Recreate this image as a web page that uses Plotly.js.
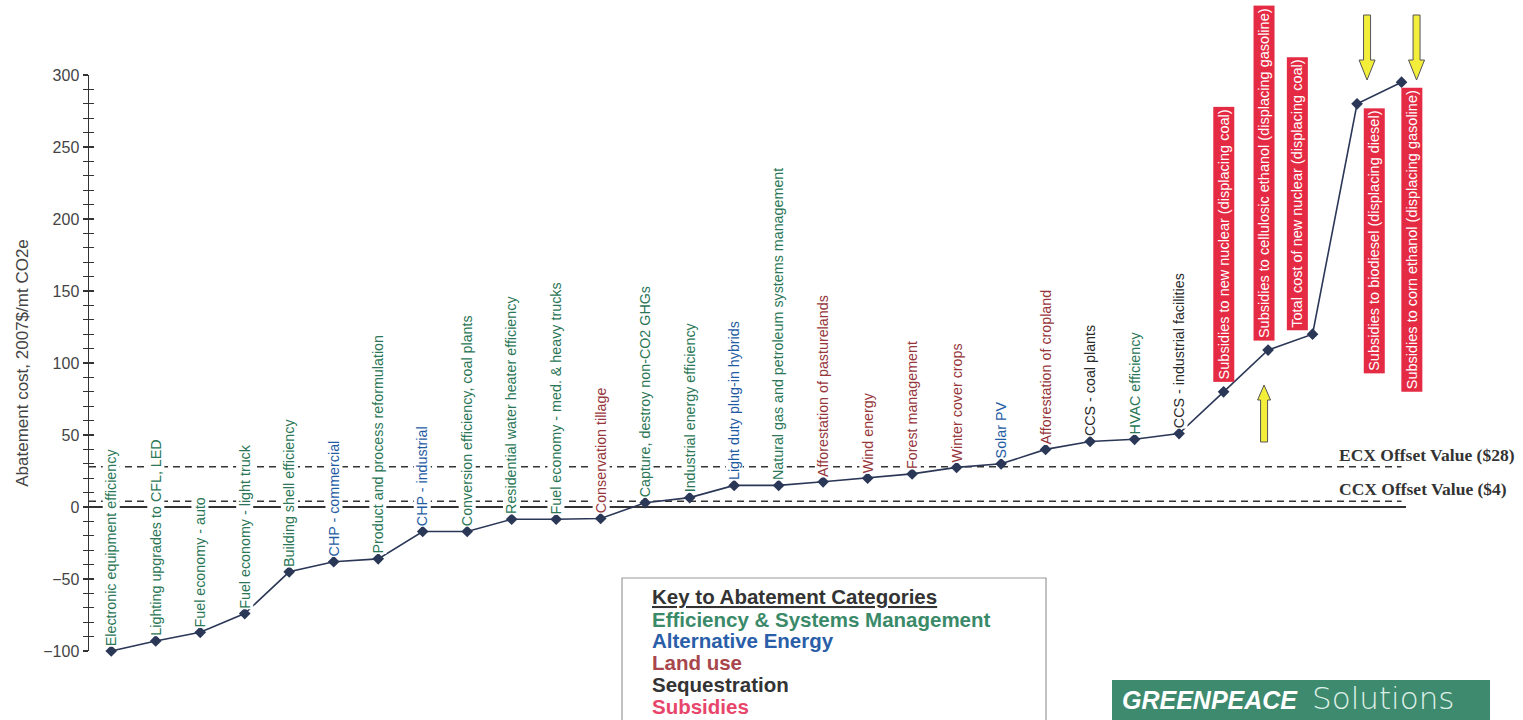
<!DOCTYPE html>
<html><head><meta charset="utf-8">
<script src="https://cdn.plot.ly/plotly-3.0.1.min.js"></script>
<style>html,body{margin:0;padding:0;background:#fff;overflow:hidden}#chart{width:1523px;height:720px}</style>
</head><body><div id="chart"></div><script>
// ---------- data ----------
const measures = [
  'Electronic equipment efficiency','Lighting upgrades to CFL, LED','Fuel economy - auto','Fuel economy - light truck',
  'Building shell efficiency','CHP - commercial','Product and process reformulation','CHP - industrial',
  'Conversion efficiency, coal plants','Residential water heater efficiency','Fuel economy - med. & heavy trucks',
  'Conservation tillage','Capture, destroy non-CO2 GHGs','Industrial energy efficiency','Light duty plug-in hybrids',
  'Natural gas and petroleum systems management','Afforestation of pasturelands','Wind energy','Forest management',
  'Winter cover crops','Solar PV','Afforestation of cropland','CCS - coal plants','HVAC efficiency',
  'CCS - industrial facilities','Subsidies to new nuclear (displacing coal)',
  'Subsidies to cellulosic ethanol (displacing gasoline)','Total cost of new nuclear (displacing coal)',
  'Subsidies to biodiesel (displacing diesel)','Subsidies to corn ethanol (displacing gasoline)'
];
const costs = [-100,-93,-87,-74,-45,-38,-36,-17,-17,-8.5,-8.5,-8,3,6.5,15,15,17.5,20,23,27.5,30,40,45.5,47,51,80,109,120,280,295];
const measureCategory = ['E','E','E','E','E','A','E','A','E','E','E','L','E','E','A','E','L','L','L','L','A','L','S','E','S','U','U','U','U','U'];
const categoryKeys = ['E','A','L','S','U'];
const categoryNames = ['Efficiency & Systems Management','Alternative Energy','Land use','Sequestration','Subsidies'];
const offsetValues = [28, 4];
const offsetLabels = ['ECX Offset Value ($28)','CCX Offset Value ($4)'];
const keyTitle = 'Key to Abatement Categories';
const yTitle = 'Abatement cost, 2007$/mt CO2e';

// ---------- styles ----------
const W=1523,H=720,ML=89,MR=117,MT=75,MB=69;
const PW=W-ML-MR, PH=H-MT-MB;
const XR=[-0.5,29.1];
const px2x = px => (px-ML)/PW;
const py2y = py => (H-MB-py)/PH;
const idx2x = i => (i-XR[0])/(XR[1]-XR[0]);
const labelColor = {E:'#2a7656',A:'#1f5ca3',L:'#96363b',S:'#2a2a2a',U:'#ffffff'};
const keyColor = {E:'#3a8a69',A:'#2a5ea8',L:'#a8464c',S:'#333333',U:'#e8456a'};
const subsidyRed = '#e52b44';
const FONT = 'Liberation Sans, Arial, sans-serif';
// label placement of the highlighted (subsidy) labels: [yanchor, xshift, yshift]
const subsidyPlacement = {25:['bottom',0,9],26:['bottom',-4,9],27:['bottom',-15,3],28:['top',17,-4],29:['top',10,-5]};

const xs = measures.map((_,i)=>i);

const trace = {
  x: xs, y: costs, type:'scatter', mode:'lines+markers',
  line:{color:'#2b3757', width:1.6},
  marker:{symbol:'diamond', size:9, color:'#2b3757'},
  hoverinfo:'text', text: measures, showlegend:false, cliponaxis:false
};
const trace2 = {x:[0], y:[0], yaxis:'y2', mode:'markers', marker:{opacity:0}, showlegend:false, hoverinfo:'skip'};

const annotations = [];
measures.forEach((m,i)=>{
  const c = measureCategory[i];
  if (c !== 'U') {
    annotations.push({x:i, y:costs[i], xref:'x', yref:'y', text:m, textangle:-90, showarrow:false,
      xanchor:'center', yanchor:'bottom', yshift:4, bgcolor:'white', borderpad:0,
      font:{family:FONT, size:14.3, color:labelColor[c]}});
  } else {
    const p = subsidyPlacement[i];
    annotations.push({x:i, y:costs[i], xref:'x', yref:'y', text:m, textangle:-90, showarrow:false,
      xanchor:'center', yanchor:p[0], xshift:p[1], yshift:p[2], bgcolor:subsidyRed, borderpad:2,
      font:{family:FONT, size:14.5, color:'#ffffff'}});
  }
});
offsetLabels.forEach((t,k)=>{
  annotations.push({x:px2x(1337), y:offsetValues[k], xref:'paper', yref:'y', text:'<b>'+t+'</b>', showarrow:false,
    xanchor:'left', yanchor:'middle', yshift:12, font:{family:'Liberation Serif, Times New Roman, serif', size:17.5, color:'#333'}});
});
// key box text
annotations.push({x:px2x(650), y:py2y(596), xref:'paper', yref:'paper', text:'<b><u>'+keyTitle+'</u></b>', showarrow:false,
  xanchor:'left', yanchor:'middle', font:{family:FONT, size:20.5, color:'#333'}});
categoryKeys.forEach((k,j)=>{
  annotations.push({x:px2x(650), y:py2y(619+j*21.8), xref:'paper', yref:'paper', text:'<b>'+categoryNames[j]+'</b>', showarrow:false,
    xanchor:'left', yanchor:'middle', font:{family:FONT, size:20.5, color:keyColor[k]}});
});
// Greenpeace logo text
annotations.push({x:px2x(1120), y:py2y(700), xref:'paper', yref:'paper', text:'GREENPEACE', showarrow:false,
  xanchor:'left', yanchor:'middle', font:{family:FONT, size:25, color:'#ffffff', weight:'bold', style:'italic'}});
annotations.push({x:px2x(1310), y:py2y(698), xref:'paper', yref:'paper', text:'Solutions', showarrow:false,
  xanchor:'left', yanchor:'middle', font:{family:'DejaVu Sans, sans-serif', size:31, color:'#dff0e8', weight:200}});

const shapes = [];
// reference lines
offsetValues.forEach(v=>{
  shapes.push({type:'line', xref:'x', yref:'y', x0:-0.5, x1:29, y0:v, y1:v, layer:'below',
    line:{color:'#333', width:1.5, dash:'7px,5px'}});
});
shapes.push({type:'line', xref:'x', yref:'y', x0:-0.5, x1:29.1, y0:0, y1:0, layer:'below', line:{color:'#333', width:1.8}});
// yellow arrows
function arrow(idx, dx, tipPy, dir, shaftLen, headLen, headHalf, shaftHalf){
  const s = dir; // +1: pointing down (body above tip), -1: pointing up
  const p = [[dx,0],[dx-headHalf,s*headLen],[dx-shaftHalf,s*headLen],[dx-shaftHalf,s*shaftLen],
             [dx+shaftHalf,s*shaftLen],[dx+shaftHalf,s*headLen],[dx+headHalf,s*headLen]];
  return {type:'path', xref:'paper', yref:'paper', xsizemode:'pixel', ysizemode:'pixel', xanchor:idx2x(idx), yanchor:py2y(tipPy),
    path:'M '+p.map(q=>q[0]+','+q[1]).join(' L ')+' Z', fillcolor:'#f3ee3a', line:{color:'#555', width:1}};
}
shapes.push(arrow(28, 10, 80, 1, 65, 20, 8, 3.5));
shapes.push(arrow(29, 15, 80, 1, 65, 20, 8, 3.5));
shapes.push(arrow(26, -4, 385, -1, 57, 15, 6.5, 3.5));
// key box
shapes.push({type:'rect', xref:'paper', yref:'paper', x0:px2x(622), x1:px2x(1046), y0:py2y(730), y1:py2y(578),
  line:{color:'#9a9a9a', width:1.2}, fillcolor:'rgba(0,0,0,0)'});
// logo block
shapes.push({type:'rect', xref:'paper', yref:'paper', x0:px2x(1112), x1:px2x(1490), y0:py2y(730), y1:py2y(680),
  line:{width:0}, fillcolor:'#3e8a6e'});

const layout = {
  width:W, height:H, margin:{l:ML, r:MR, t:MT, b:MB}, paper_bgcolor:'#fff', plot_bgcolor:'rgba(0,0,0,0)',
  showlegend:false,
  xaxis:{range:XR, visible:false, fixedrange:true},
  yaxis:{range:[-100,300], dtick:50, showgrid:false, zeroline:false, showline:true, linecolor:'#333', linewidth:1.5,
    ticks:'outside', ticklen:5, tickwidth:1.5, tickcolor:'#333',
    minor:{dtick:10, ticks:'outside', ticklen:5, tickwidth:1, tickcolor:'#333', showgrid:false},
    tickfont:{family:FONT, size:16, color:'#444'},
    title:{text:yTitle, font:{family:FONT, size:17, color:'#444'}, standoff:10}, automargin:false},
  yaxis2:{range:[-100,300], overlaying:'y', side:'left', dtick:50, showgrid:false, zeroline:false, showline:false,
    ticks:'inside', ticklen:5, tickwidth:1.5, tickcolor:'#333', showticklabels:false,
    minor:{dtick:10, ticks:'inside', ticklen:5, tickwidth:1, tickcolor:'#333', showgrid:false}},
  annotations, shapes
};
Plotly.newPlot('chart', [trace, trace2], layout, {displayModeBar:false, staticPlot:true});
</script></body></html>
